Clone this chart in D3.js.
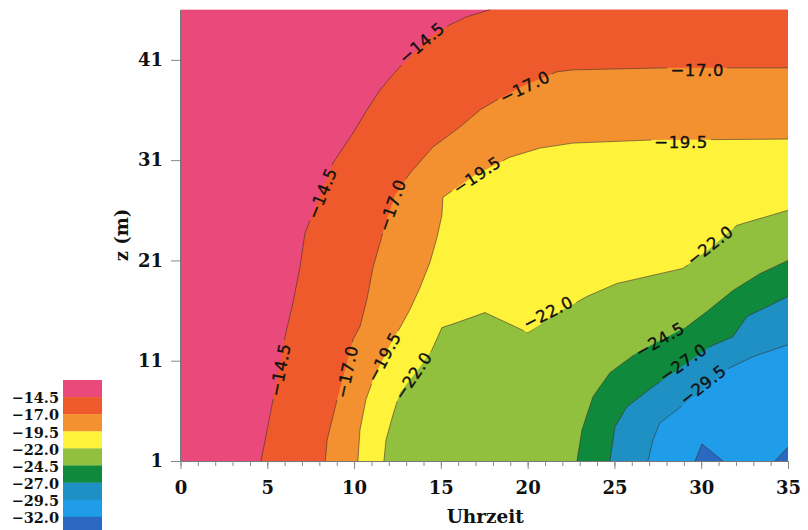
<!DOCTYPE html>
<html>
<head>
<meta charset="utf-8">
<script src="https://cdn.jsdelivr.net/npm/d3@7"></script>
<style>
  html, body { margin: 0; padding: 0; background: #ffffff; }
  svg { display: block; }
</style>
</head>
<body>
<svg id="chart" width="808" height="530"></svg>
<script>
// ---------------- data ----------------
const xTicks = [0, 5, 10, 15, 20, 25, 30, 35];
const yTicks = [1, 11, 21, 31, 41];
const levels = [-14.5, -17.0, -19.5, -22.0, -24.5, -27.0, -29.5, -32.0];
const legendLabels = ["\u221214.5", "\u221217.0", "\u221219.5", "\u221222.0", "\u221224.5", "\u221227.0", "\u221229.5", "\u221232.0"];
const bandColors = ["#e9497b", "#ef5a2c", "#f39131", "#fef23a", "#91c03f", "#0f893b", "#1e90c4", "#1f9de8", "#2a68c2"];

// isolines as [Uhrzeit, z (m)] points
const iso145 = [[4.64,1],[5.33,7.1],[6.02,13.4],[6.48,16.8],[6.88,20.3],[7.17,23.7],[7.46,25.0],[8.78,30.7],[9.94,33.7],[10.74,36.0],[11.49,38.0],[12.47,40.0],[13.05,41.0],[14.37,43.3],[15.52,44.5],[16.5,45.3],[17.83,46]];
const iso170 = [[8.34,1],[8.45,3.1],[9.02,7.1],[9.94,13.1],[10.34,14.4],[10.74,17.1],[11.09,20.3],[11.49,22.7],[11.78,24.5],[12.36,27.5],[13.22,29.7],[14.54,32.3],[16.1,34.3],[17.25,36.0],[18.23,37.0],[19.84,38.5],[21.68,39.8],[22.6,40.0],[28.02,40.2],[35,40.2]];
const iso195 = [[10.22,1],[10.34,4.1],[10.68,7.1],[11.09,9.1],[12.07,12.6],[12.65,14.3],[13.22,16.1],[13.8,18.3],[14.37,20.8],[14.78,23.3],[15.06,25.5],[15.12,27.3],[16.96,29.5],[18.98,31.3],[20.71,32.2],[22.61,32.7],[27.04,33.0],[35,33.1]];
const iso220 = [[11.72,1],[11.84,3.1],[12.24,5.6],[12.64,7.8],[13.68,10.1],[14.49,12.1],[15.06,14.3],[15.93,14.8],[17.54,15.8],[20.02,13.8],[21.57,15.6],[23.41,17.4],[25.14,18.7],[28.94,20.2],[30.5,22.2],[32.06,24.5],[35,26.0]];
const iso245 = [[22.84,1],[23.13,4.1],[23.76,7.4],[24.74,9.8],[26.3,11.8],[29.18,14.4],[30.33,15.9],[31.83,18.0],[33.4,19.7],[35,21.0]];
const iso270 = [[24.74,1],[25.03,4.4],[25.72,6.4],[27.22,8.4],[30.5,12.4],[31.83,13.4],[32.63,15.4],[35,17.4]];
const iso295 = [[26.93,1],[27.22,3.1],[27.62,4.8],[28.6,6.1],[31.65,10.3],[32.98,11.4],[35,12.6]];
const iso320a = [[29.64,1],[30.04,2.7],[31.25,1]];
const iso320b = [[34.25,1],[35,2.4]];
const isolines = [[iso145],[iso170],[iso195],[iso220],[iso245],[iso270],[iso295],[iso320a, iso320b]];

// contour labels: level, Uhrzeit, z, angle
const contourLabels = [
  [-14.5, 5.73, 10.1, -79], [-14.5, 8.15, 27.7, -68], [-14.5, 13.9, 42.7, -40],
  [-17.0, 9.59, 9.9, -78], [-17.0, 12.18, 26.5, -71], [-17.0, 19.84, 38.3, -26], [-17.0, 29.77, 40.0, 0],
  [-19.5, 11.72, 11.4, -62], [-19.5, 17.08, 29.5, -34], [-19.5, 28.84, 32.8, 0],
  [-22.0, 13.4, 9.5, -56], [-22.0, 21.18, 15.8, -27], [-22.0, 30.5, 22.5, -38],
  [-24.5, 27.62, 13.1, -30], [-27.0, 28.95, 10.8, -35], [-29.5, 30.1, 8.6, -38]
];

// ---------------- drawing ----------------
const svg = d3.select("#chart");
const xMin = 0, xMax = 35, zMin = 1, zMax = 46;
const x = d3.scaleLinear().domain([xMin, xMax]).range([180.5, 788]);
const y = d3.scaleLinear().domain([zMin, zMax]).range([461, 9.7]);
const serif = "'DejaVu Serif', serif";

const line = d3.line().x(d => x(d[0])).y(d => y(d[1]));

function closePoly(pts) {
  const out = pts.slice();
  const last = pts[pts.length - 1];
  if (last[1] >= zMax - 1e-6) out.push([xMax, zMax]);
  if (last[0] >= xMax - 1e-6 || last[1] >= zMax - 1e-6) out.push([xMax, zMin]);
  return out;
}

const plot = svg.append("g");
plot.append("rect")
  .attr("x", x(xMin)).attr("y", y(zMax))
  .attr("width", x(xMax) - x(xMin)).attr("height", y(zMin) - y(zMax))
  .attr("fill", bandColors[0]);

isolines.forEach((segs, i) => {
  segs.forEach(seg => {
    plot.append("path")
      .attr("d", line(closePoly(seg)) + "Z")
      .attr("fill", bandColors[i + 1]);
  });
});

// labels first (to measure), then masked lines
const fmt = v => "\u2212" + Math.abs(v).toFixed(1);
const labelG = svg.append("g");
const boxes = [];
contourLabels.forEach(([v, lx, lz, ang]) => {
  const t = labelG.append("text")
    .attr("transform", `translate(${x(lx)},${y(lz)}) rotate(${ang})`)
    .attr("text-anchor", "middle")
    .attr("dy", "0.36em")
    .attr("font-family", "'DejaVu Sans', sans-serif")
    .attr("font-size", 16.5)
    .attr("letter-spacing", 0.6)
    .attr("fill", "#111")
    .attr("stroke", "#111")
    .attr("stroke-width", 0.35)
    .text(fmt(v));
  const w = t.node().getComputedTextLength();
  boxes.push({ cx: x(lx), cy: y(lz), ang, w: w + 6 });
});

const defs = svg.append("defs");
const mask = defs.append("mask").attr("id", "lblmask").attr("maskUnits", "userSpaceOnUse")
  .attr("x", 0).attr("y", 0).attr("width", 808).attr("height", 530);
mask.append("rect").attr("x", 0).attr("y", 0).attr("width", 808).attr("height", 530).attr("fill", "#fff");
boxes.forEach(b => {
  mask.append("rect")
    .attr("x", -b.w / 2).attr("y", -8).attr("width", b.w).attr("height", 16)
    .attr("transform", `translate(${b.cx},${b.cy}) rotate(${b.ang})`)
    .attr("fill", "#000");
});

const lineG = svg.insert("g", () => labelG.node()).attr("mask", "url(#lblmask)");
isolines.forEach(segs => {
  segs.forEach(seg => {
    lineG.append("path")
      .attr("d", line(seg))
      .attr("fill", "none")
      .attr("stroke", "#3b2b2b")
      .attr("stroke-width", 0.7)
      .attr("stroke-opacity", 0.8);
  });
});

// axes
const xMinor = d3.axisBottom(x).tickValues(d3.range(0, 36, 1)).tickSize(5).tickFormat("").tickSizeOuter(0);
const gxm = svg.append("g").attr("transform", `translate(0,${y(zMin)})`).call(xMinor);
gxm.select(".domain").attr("stroke", "#777");
gxm.selectAll(".tick line").attr("stroke", "#888");

const xMajor = d3.axisBottom(x).tickValues(xTicks).tickSize(8).tickPadding(12).tickSizeOuter(0);
const gx = svg.append("g").attr("transform", `translate(0,${y(zMin)})`).call(xMajor);
gx.select(".domain").remove();
gx.selectAll(".tick line").attr("stroke", "#888");
gx.selectAll(".tick text").attr("font-family", serif).attr("font-weight", "bold").attr("font-size", 18).attr("fill", "#111");

const yAxis = d3.axisLeft(y).tickValues(yTicks).tickSize(9).tickPadding(8).tickSizeOuter(0);
const gy = svg.append("g").attr("transform", `translate(${x(xMin) - 0.5},0)`).call(yAxis);
gy.select(".domain").attr("stroke", "#777");
gy.selectAll(".tick line").attr("stroke", "#888");
gy.selectAll(".tick text").attr("font-family", serif).attr("font-weight", "bold").attr("font-size", 18).attr("fill", "#111");

svg.append("text")
  .attr("x", (x(xMin) + x(xMax)) / 2 + 1).attr("y", 523)
  .attr("text-anchor", "middle")
  .attr("font-family", serif).attr("font-weight", "bold").attr("font-size", 18.5).attr("fill", "#111")
  .text("Uhrzeit");

svg.append("text")
  .attr("transform", `translate(128,235) rotate(-90)`)
  .attr("text-anchor", "middle")
  .attr("font-family", serif).attr("font-weight", "bold").attr("font-size", 18).attr("fill", "#111")
  .text("z (m)");

// legend
const legTop = 380, legH = 17.1;
const leg = svg.append("g");
bandColors.forEach((c, i) => {
  leg.append("rect")
    .attr("x", 63).attr("y", legTop + i * legH)
    .attr("width", 39).attr("height", legH + 0.3)
    .attr("fill", c);
});
legendLabels.forEach((s, i) => {
  leg.append("text")
    .attr("x", 59).attr("y", legTop + (i + 1) * legH + 1)
    .attr("dy", "0.36em")
    .attr("text-anchor", "end")
    .attr("font-family", serif).attr("font-weight", "bold").attr("font-size", 14.5).attr("fill", "#111")
    .text(s);
});
</script>
</body>
</html>
